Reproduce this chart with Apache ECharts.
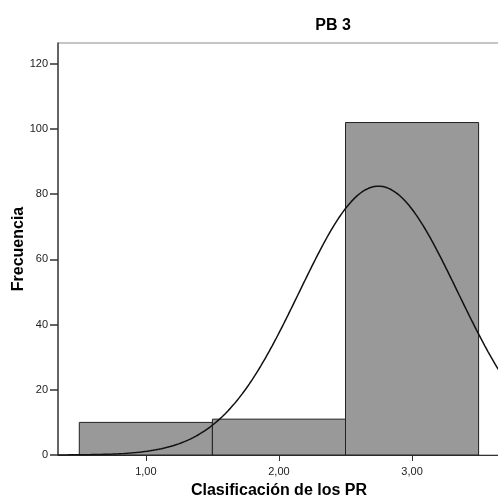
<!DOCTYPE html>
<html>
<head>
<meta charset="utf-8">
<script src="https://cdn.jsdelivr.net/npm/echarts@6/dist/echarts.min.js"></script>
<style>
  html, body { margin: 0; padding: 0; background: #fff; }
  #chart { width: 498px; height: 498px; }
</style>
</head>
<body>
<div id="chart"></div>
<script>
// Histogram of "Clasificación de los PR" with fitted normal curve
const binCenters = [1, 2, 3];
const binWidth = 1;
const counts = [10, 11, 102];
const xTickValues = [1, 2, 3, 4];
const yTickStep = 20;

// Fitted normal: mean and standard deviation from the binned counts
const n = counts.reduce((a, b) => a + b, 0);
const mean = binCenters.reduce((s, c, i) => s + c * counts[i], 0) / n;
const variance = binCenters.reduce((s, c, i) => s + counts[i] * (c - mean) ** 2, 0) / (n - 1);
const sd = Math.sqrt(variance);

const xMin = 0.34, xMax = 4.66;
const curve = [];
for (let i = 0; i <= 400; i++) {
  const x = xMin + (xMax - xMin) * i / 400;
  const y = n * binWidth / (sd * Math.sqrt(2 * Math.PI)) * Math.exp(-((x - mean) ** 2) / (2 * variance));
  curve.push([x, y]);
}

const bars = binCenters.map((c, i) => [c - binWidth / 2, c + binWidth / 2, counts[i]]);

const chart = echarts.init(document.getElementById('chart'));
const font = 'Liberation Sans, Arial, sans-serif';
chart.setOption({
  animation: false,
  title: {
    text: 'PB 3',
    left: 328,
    top: 13,
    textAlign: 'center',
    textStyle: { fontFamily: font, fontSize: 16, fontWeight: 'bold', color: '#000' }
  },
  grid: {
    left: 58, top: 43, width: 575, height: 412,
    outerBoundsMode: 'none',
    containLabel: false,
    show: true, borderColor: '#8a8a8a', borderWidth: 1, backgroundColor: 'transparent'
  },
  xAxis: {
    type: 'value',
    min: xMin, max: xMax,
    name: 'Clasificación de los PR',
    nameLocation: 'middle',
    nameGap: 28,
    nameMoveOverlap: false,
    nameTextStyle: { fontFamily: font, fontSize: 16, fontWeight: 'bold', color: '#000', padding: [0, (345.5 - 279) * 2, 0, 0] },
    axisLine: { onZero: false, lineStyle: { color: '#333', width: 1 } },
    axisTick: { show: true, customValues: xTickValues, length: 6, lineStyle: { color: '#333' } },
    axisLabel: {
      customValues: xTickValues,
      formatter: v => v.toFixed(2).replace('.', ','),
      fontFamily: font, fontSize: 11, color: '#222', margin: 11
    },
    splitLine: { show: false }
  },
  yAxis: {
    type: 'value',
    min: 0, max: 126.4, interval: yTickStep,
    name: 'Frecuencia',
    nameLocation: 'middle',
    nameGap: 31,
    nameMoveOverlap: false,
    nameRotate: 90,
    nameTextStyle: { fontFamily: font, fontSize: 16, fontWeight: 'bold', color: '#000' },
    axisLine: { show: true, lineStyle: { color: '#444', width: 1.5 } },
    axisTick: { show: true, length: 8, lineStyle: { color: '#333', width: 1.5 } },
    axisLabel: { fontFamily: font, fontSize: 11, color: '#222', margin: 10, showMaxLabel: false },
    splitLine: { show: false }
  },
  series: [
    {
      type: 'custom',
      data: bars,
      encode: { x: [0, 1], y: 2 },
      renderItem: (params, api) => {
        const p0 = api.coord([api.value(0), 0]);
        const p1 = api.coord([api.value(1), api.value(2)]);
        return {
          type: 'rect',
          shape: { x: p0[0], y: p1[1], width: p1[0] - p0[0], height: p0[1] - p1[1] },
          style: { fill: '#999999', stroke: '#222', lineWidth: 1 }
        };
      },
      z: 2
    },
    {
      type: 'line',
      data: curve,
      showSymbol: false,
      smooth: false,
      lineStyle: { color: '#111', width: 1.5 },
      z: 3
    }
  ]
});
</script>
</body>
</html>
